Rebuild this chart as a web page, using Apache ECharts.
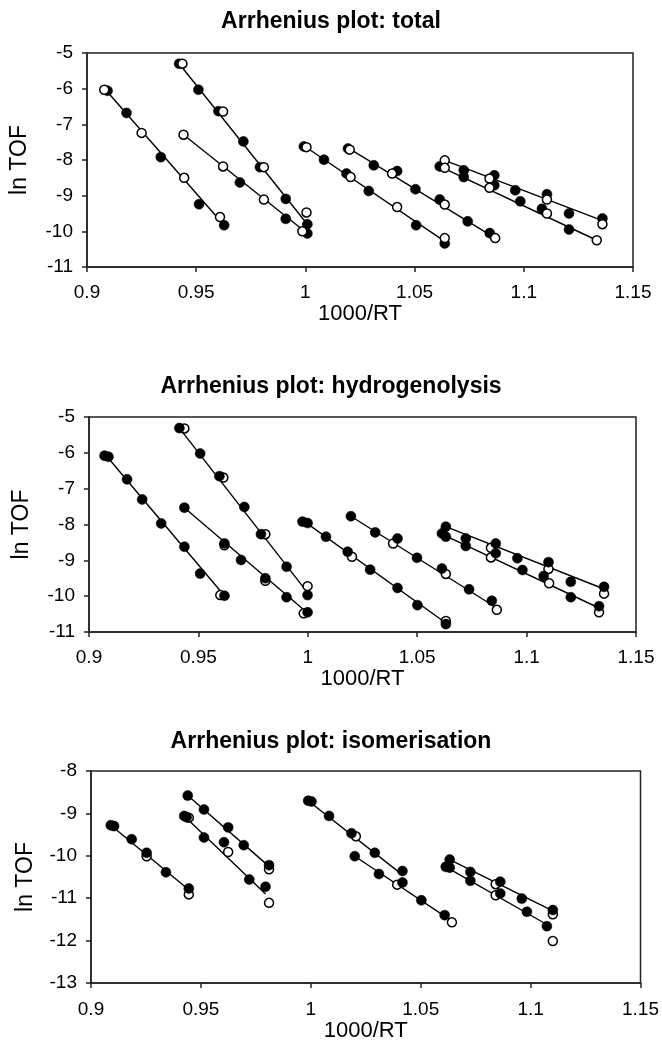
<!DOCTYPE html>
<html>
<head>
<meta charset="utf-8">
<script src="https://cdn.jsdelivr.net/npm/echarts/dist/echarts.min.js"></script>
<style>html,body{margin:0;padding:0;background:#fff;}#c{width:662px;height:1048px;}</style>
</head>
<body>
<div id="c"></div>
<script>
// ---------- data ----------
const titles = ['Arrhenius plot: total', 'Arrhenius plot: hydrogenolysis', 'Arrhenius plot: isomerisation'];
const xName = '1000/RT';
const yName = 'ln TOF';
const xRange = [0.9, 1.15, 0.05];
const yRanges = [[-11, -5, 1], [-11, -5, 1], [-13, -8, 1]];

// Panel 1: total
const totalFilled = [
  [0.9094,-6.06],[0.9181,-6.68],[0.9338,-7.92],[0.9513,-9.24],[0.9628,-9.83],
  [0.9422,-5.30],[0.951,-6.03],[0.9602,-6.63],[0.9716,-7.48],[0.9792,-8.20],[0.991,-9.09],[1.0009,-9.80],
  [0.970,-8.63],[0.991,-9.65],[1.0009,-10.06],
  [0.9993,-7.62],[1.0085,-7.99],[1.0188,-8.38],[1.029,-8.87],[1.0507,-9.83],[1.0638,-10.34],
  [1.0195,-7.68],[1.0313,-8.15],[1.042,-8.31],[1.0504,-8.82],[1.0615,-9.11],[1.0743,-9.72],[1.0844,-10.05],
  [1.0615,-8.18],[1.0725,-8.29],[1.0725,-8.48],[1.0865,-8.43],[1.0865,-8.71],[1.0961,-8.85],[1.0984,-9.16],
  [1.1106,-8.96],[1.1083,-9.37],[1.1207,-9.50],[1.1207,-9.95],[1.136,-9.64]
];
const totalOpen = [
  [0.9079,-6.03],[0.925,-7.24],[0.9445,-8.50],[0.9609,-9.60],
  [0.9437,-5.30],[0.9623,-6.64],[0.981,-8.20],[1.0005,-9.47],
  [0.9442,-7.29],[0.9623,-8.18],[0.981,-9.11],[0.9986,-10.0],
  [1.0005,-7.64],[1.0207,-8.48],[1.042,-9.32],[1.0638,-10.19],
  [1.0203,-7.71],[1.0397,-8.38],[1.0638,-9.25],[1.0869,-10.19],
  [1.0638,-8.01],[1.0638,-8.22],[1.0843,-8.52],[1.0843,-8.78],[1.1106,-9.11],[1.1106,-9.50],[1.136,-9.80],[1.1334,-10.25]
];
const totalLines = [
  [0.9085,-6.03,0.9628,-9.83],
  [0.9422,-5.30,1.0009,-9.80],
  [0.9442,-7.29,1.0009,-10.06],
  [0.9993,-7.60,1.0638,-10.28],
  [1.0203,-7.69,1.0869,-10.19],
  [1.0638,-8.01,1.136,-9.70],
  [1.0615,-8.18,1.1334,-10.25]
];

// Panel 2: hydrogenolysis
const hydroFilled = [
  [0.9071,-6.08],[0.9089,-6.11],[0.9174,-6.74],[0.9243,-7.30],[0.933,-7.97],[0.9436,-8.62],[0.9508,-9.37],[0.9619,-9.99],
  [0.9413,-5.31],[0.9508,-6.02],[0.9596,-6.65],[0.971,-7.51],[0.9786,-8.27],[0.9903,-9.18],[0.9999,-9.97],
  [0.9436,-7.53],[0.9619,-8.53],[0.9695,-8.99],[0.9806,-9.50],[0.9903,-10.03],[0.9999,-10.45],
  [0.9976,-7.92],[0.9999,-7.96],[1.0083,-8.34],[1.0182,-8.76],[1.0285,-9.26],[1.041,-9.77],[1.0501,-10.25],[1.0631,-10.78],
  [1.0197,-7.77],[1.0308,-8.22],[1.041,-8.39],[1.0499,-8.93],[1.0613,-9.23],[1.0737,-9.81],[1.0841,-10.13],
  [1.0631,-8.06],[1.0613,-8.25],[1.0631,-8.34],[1.0722,-8.39],[1.0722,-8.60],[1.0859,-8.53],[1.0859,-8.80],
  [1.0958,-8.94],[1.0981,-9.27],[1.11,-9.05],[1.1078,-9.44],[1.1202,-9.60],[1.1202,-10.03],[1.1354,-9.74],[1.1331,-10.28]
];
const hydroOpen = [
  [0.96,-9.97],[0.9436,-5.32],[0.9614,-6.69],[0.9806,-8.27],[0.9999,-9.72],
  [0.9619,-8.58],[0.9806,-9.57],[0.9981,-10.48],
  [1.0202,-8.90],[1.0631,-10.69],
  [1.039,-8.53],[1.0631,-9.38],[1.0864,-10.38],
  [1.0837,-8.65],[1.0837,-8.92],[1.11,-9.24],[1.1103,-9.64],[1.1354,-9.93],[1.1331,-10.45]
];
const hydroLines = [
  [0.908,-6.09,0.9619,-9.99],
  [0.9413,-5.31,0.9999,-9.90],
  [0.9436,-7.53,0.9999,-10.47],
  [0.9985,-7.92,1.0631,-10.75],
  [1.0197,-7.77,1.0864,-10.33],
  [1.0631,-8.06,1.1354,-9.80],
  [1.0613,-8.27,1.1331,-10.33]
];

// Panel 3: isomerisation
const isoFilled = [
  [0.909,-9.28],[0.9105,-9.30],[0.9185,-9.61],[0.9253,-9.93],[0.9341,-10.39],[0.9445,-10.77],
  [0.944,-8.58],[0.9514,-8.91],[0.9624,-9.33],[0.9695,-9.75],[0.981,-10.22],
  [0.9424,-9.06],[0.9435,-9.09],[0.9514,-9.57],[0.9605,-9.68],[0.972,-10.56],[0.9794,-10.73],
  [0.9988,-8.70],[1.0003,-8.72],[1.0083,-9.06],[1.0185,-9.47],[1.0291,-9.93],[1.0417,-10.36],
  [1.02,-10.01],[1.031,-10.43],[1.0417,-10.63],[1.0503,-11.05],[1.0609,-11.40],
  [1.0632,-10.09],[1.0614,-10.26],[1.0632,-10.28],[1.0726,-10.38],[1.0726,-10.59],[1.0862,-10.61],[1.0862,-10.89],
  [1.096,-11.01],[1.0983,-11.32],[1.1101,-11.28],[1.1074,-11.66]
];
const isoOpen = [
  [0.9253,-10.01],[0.9445,-10.91],[0.981,-10.32],[0.9445,-9.10],[0.9624,-9.91],[0.981,-11.11],
  [1.0205,-9.54],[1.0393,-10.68],[1.0642,-11.57],
  [1.0841,-10.67],[1.0841,-10.93],[1.1101,-11.38],[1.1101,-12.01]
];
const isoLines = [
  [0.909,-9.28,0.9445,-10.80],
  [0.944,-8.58,0.981,-10.25],
  [0.9424,-9.06,0.9794,-10.90],
  [0.9988,-8.70,1.0417,-10.45],
  [1.02,-10.01,1.0631,-11.50],
  [1.0632,-10.09,1.1101,-11.30],
  [1.0614,-10.26,1.1074,-11.62]
];

// ---------- layout ----------
const FONT = '"Liberation Sans", Arial, sans-serif';
const grids = [
  {left: 86, top: 53, width: 547, height: 214},
  {left: 89, top: 417, width: 547, height: 215},
  {left: 91, top: 771, width: 550, height: 212}
];
const titleY = [22, 387, 742];
const xNameGap = [17, 22, 37];
const xLabelMargin = [16, 16, 17];
const openOnTop = [true, false, false];

const panels = [
  {filled: totalFilled, open: totalOpen, lines: totalLines},
  {filled: hydroFilled, open: hydroOpen, lines: hydroLines},
  {filled: isoFilled, open: isoOpen, lines: isoLines}
];

const option = {
  animation: false,
  backgroundColor: '#fff',
  grid: grids.map(g => Object.assign({show: true, borderColor: '#222', borderWidth: 1.5, containLabel: false}, g)),
  xAxis: grids.map((g, i) => ({
    type: 'value', gridIndex: i, min: xRange[0], max: xRange[1], interval: xRange[2],
    name: xName, nameLocation: 'middle', nameGap: xNameGap[i],
    nameTextStyle: {fontFamily: FONT, fontSize: 22, color: '#000'},
    axisLine: {show: true, onZero: false, lineStyle: {color: '#222', width: 1.5}},
    axisTick: {show: true, inside: false, length: 5, lineStyle: {color: '#222', width: 1.5}},
    axisLabel: {fontFamily: FONT, fontSize: 19, color: '#000', margin: xLabelMargin[i],
      formatter: v => String(+v.toFixed(2))},
    splitLine: {show: false}
  })),
  yAxis: grids.map((g, i) => ({
    type: 'value', gridIndex: i, min: yRanges[i][0], max: yRanges[i][1], interval: yRanges[i][2],
    name: yName, nameLocation: 'middle', nameGap: i === 2 ? 54 : 56, nameRotate: 90,
    nameTextStyle: {fontFamily: FONT, fontSize: 23, color: '#000'},
    axisLine: {show: true, onZero: false, lineStyle: {color: '#222', width: 1.5}},
    axisTick: {show: true, inside: false, length: 5, lineStyle: {color: '#222', width: 1.5}},
    axisLabel: {fontFamily: FONT, fontSize: 19, color: '#000', margin: 14},
    splitLine: {show: false}
  })),
  graphic: titles.map((t, i) => ({
    type: 'text', x: 331, y: titleY[i],
    style: {text: t, fontFamily: FONT, fontSize: 23, fontWeight: 'bold', fill: '#000',
      textAlign: 'center', textVerticalAlign: 'middle', align: 'center', verticalAlign: 'middle'}
  })),
  series: []
};

panels.forEach((p, i) => {
  p.lines.forEach(l => {
    option.series.push({
      type: 'line', xAxisIndex: i, yAxisIndex: i, z: 2,
      data: [[l[0], l[1]], [l[2], l[3]]],
      showSymbol: false, symbol: 'none', silent: true,
      lineStyle: {color: '#000', width: 1.4}
    });
  });
  option.series.push({
    type: 'scatter', xAxisIndex: i, yAxisIndex: i, z: openOnTop[i] ? 3 : 4,
    data: p.filled, symbol: 'circle', symbolSize: 10,
    itemStyle: {color: '#000', borderColor: '#000', borderWidth: 0.5, opacity: 1}
  });
  option.series.push({
    type: 'scatter', xAxisIndex: i, yAxisIndex: i, z: openOnTop[i] ? 4 : 3,
    data: p.open, symbol: 'circle', symbolSize: 9,
    itemStyle: {color: '#fff', borderColor: '#000', borderWidth: 1.5, opacity: 1}
  });
});

const chart = echarts.init(document.getElementById('c'), null, {renderer: 'canvas'});
chart.setOption(option);
</script>
</body>
</html>
